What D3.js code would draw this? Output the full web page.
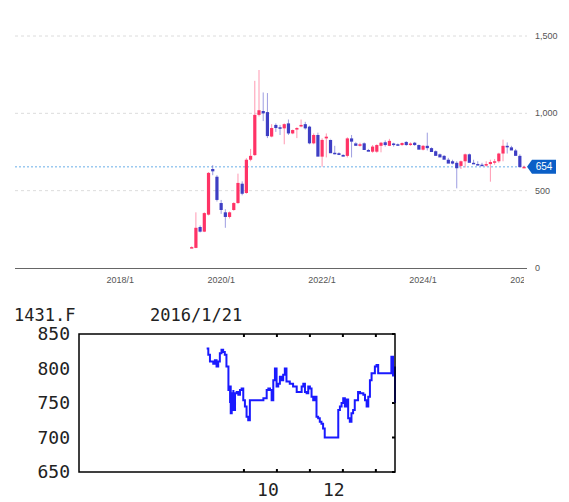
<!DOCTYPE html>
<html>
<head>
<meta charset="utf-8">
<script src="https://cdn.jsdelivr.net/npm/d3@7"></script>
<style>
  body { margin: 0; background: #fff; }
  svg { display: block; }
</style>
</head>
<body>
<svg id="chart" width="569" height="502"></svg>
<script>
// monthly candles, 2019/6 .. 2026/1
const startMonth = 17 // months after 2018/1
const opens  = [135,130,265,235,345,640,590,420,360,330,375,420,545,485,700,730,990,1015,1008,850,925,910,903,935,870,895,915,930,914,806,860,720,838,828,745,742,731,725,838,806,790,806,763,752,752,790,813,790,805,800,795,815,795,810,795,765,790,775,755,735,725,700,690,680,660,690,735,680,672,668,662,672,685,690,740,790,780,760,725,652]
const highs  = [140,360,275,360,620,665,600,440,380,365,425,610,560,710,770,1210,1280,1135,1131,930,935,925,935,960,895,910,960,945,920,870,875,838,870,832,790,748,735,845,860,815,810,812,770,795,800,815,825,835,810,805,812,820,812,815,798,795,875,780,760,740,730,712,700,690,695,740,740,700,690,680,690,700,705,745,830,812,790,770,735,662]
const lows   = [130,128,230,232,340,600,430,350,260,320,370,415,470,480,690,725,980,950,840,845,880,860,800,860,865,840,910,895,800,800,855,655,715,835,735,730,725,715,715,810,785,785,760,745,745,748,785,788,785,790,790,790,790,790,792,760,760,770,745,722,710,695,670,515,640,650,685,675,665,660,655,558,668,680,690,740,778,755,720,648,650]
const closes = [135,260,235,355,615,625,440,375,330,360,420,550,480,700,725,990,1020,1000,853,905,905,900,930,870,892,905,925,903,806,860,720,828,849,742,738,731,720,838,817,790,800,763,752,785,795,810,795,822,795,795,808,795,805,795,765,790,775,750,725,715,700,675,675,645,690,735,680,672,668,662,672,685,690,740,790,780,760,725,652,654]
const yTicks = [0,500,1000,1500]
const xTickMonths = [0,24,48,72,96]
const xTickLabels = ['2018/1','2020/1','2022/1','2024/1','2026/1']
const lastPrice = 654

// intraday line (bottom panel)
const lineTitle = '1431.F'
const lineDate = '2016/1/21'
const lineMonths = [7.87,7.92,7.97,8.07,8.12,8.17,8.22,8.27,8.32,8.37,8.42,8.47,8.53,8.53,8.58,8.58,8.60,8.63,8.68,8.68,8.73,8.78,8.83,8.88,8.93,8.98,9.03,9.08,9.13,9.18,9.23,9.38,9.59,9.69,9.74,9.79,9.84,9.89,9.94,9.99,10.04,10.09,10.14,10.19,10.24,10.29,10.39,10.49,10.60,10.70,10.75,10.80,10.85,10.90,10.95,11.00,11.05,11.10,11.15,11.20,11.25,11.30,11.35,11.40,11.45,11.81,11.86,11.91,11.96,12.01,12.06,12.11,12.16,12.21,12.26,12.31,12.36,12.46,12.52,12.62,12.67,12.72,12.77,12.82,12.87,12.97,13.02,13.07,13.47,13.47,13.52,13.58,13.58]
const lineValues = [829,820,810,807,812,803,810,822,827,824,820,803,795,769,750,774,735,764,769,740,764,766,762,769,771,754,745,730,725,754,754,754,757,769,771,769,754,783,800,774,778,788,783,791,800,781,778,774,766,766,774,778,766,764,774,771,759,754,759,730,728,723,720,713,700,700,740,745,750,757,745,755,728,723,735,740,754,766,764,762,754,745,759,783,793,803,805,793,793,817,790,750,803]
const lineYTicks = [650,700,750,800,850]
const lineXTicks = [9,10,11,12,13]
const lineXLabels = [10,12]

const svg = d3.select('#chart')

// ---------- top candlestick chart ----------
const x = d3.scaleLinear().domain([-25, 96.7]).range([15, 527])
const y = d3.scaleLinear().domain([0, 1500]).range([268, 36])

const defs = svg.append('defs')
defs.append('clipPath').attr('id', 'xclip')
  .append('rect').attr('x', 0).attr('y', 270).attr('width', 524).attr('height', 20)

svg.append('g').selectAll('line').data(yTicks.filter(d => d > 0)).join('line')
  .attr('x1', 15).attr('x2', 527)
  .attr('y1', d => y(d)).attr('y2', d => y(d))
  .attr('stroke', '#dcdcdc').attr('stroke-dasharray', '3,3')

svg.append('line').attr('x1', 15).attr('x2', 527).attr('y1', 268.5).attr('y2', 268.5)
  .attr('stroke', '#666')

svg.append('g').selectAll('text').data(yTicks).join('text')
  .attr('x', 535).attr('y', d => y(d) + 3)
  .attr('font-family', 'Liberation Sans, Arial').attr('font-size', 9).attr('fill', '#555')
  .text(d => d3.format(',')(d))

svg.append('g').attr('clip-path', 'url(#xclip)').selectAll('text').data(xTickMonths).join('text')
  .attr('x', d => x(d)).attr('y', 283).attr('text-anchor', 'middle')
  .attr('font-family', 'Liberation Sans, Arial').attr('font-size', 9).attr('fill', '#555')
  .text((d, i) => xTickLabels[i])

svg.append('line').attr('x1', 15).attr('x2', 527)
  .attr('y1', y(lastPrice)).attr('y2', y(lastPrice))
  .attr('stroke', '#6aaee8').attr('stroke-dasharray', '2,2')

const candles = closes.map((c, i) => ({ m: startMonth + i, o: opens[i], h: highs[i], l: lows[i], c }))
const col = d => d.c >= d.o ? '#ff3366' : '#3e3ec4'
const cg = svg.append('g')
cg.selectAll('line').data(candles).join('line')
  .attr('x1', d => x(d.m)).attr('x2', d => x(d.m))
  .attr('y1', d => y(d.h)).attr('y2', d => y(d.l))
  .attr('stroke', col).attr('stroke-opacity', 0.5)
cg.selectAll('rect').data(candles).join('rect')
  .attr('x', d => x(d.m) - 1.6).attr('width', 3.2)
  .attr('y', d => y(Math.max(d.o, d.c)))
  .attr('height', d => Math.max(1.5, Math.abs(y(d.o) - y(d.c))))
  .attr('fill', col)

const py = y(lastPrice)
svg.append('path')
  .attr('d', `M527,${py} L532,${py - 7} L556,${py - 7} L556,${py + 7} L532,${py + 7} Z`)
  .attr('fill', '#0b5fc7')
svg.append('text').attr('x', 544).attr('y', py + 3.5).attr('text-anchor', 'middle')
  .attr('font-family', 'Liberation Sans, Arial').attr('font-size', 10).attr('fill', '#fff')
  .text(lastPrice)

// ---------- bottom line chart ----------
const lx = d3.scaleLinear().domain([4, 13.58]).range([79, 395])
const ly = d3.scaleLinear().domain([650, 850]).range([472, 334])
const mono = 'DejaVu Sans Mono, Liberation Mono, monospace'

svg.append('text').attr('x', 14).attr('y', 321).attr('font-family', mono).attr('font-size', 17)
  .attr('fill', '#222').text(lineTitle)
svg.append('text').attr('x', 150).attr('y', 321).attr('font-family', mono).attr('font-size', 17)
  .attr('fill', '#222').text(lineDate)

svg.append('g').selectAll('text').data(lineYTicks).join('text')
  .attr('x', 70).attr('y', d => ly(d) + 6).attr('text-anchor', 'end')
  .attr('font-family', mono).attr('font-size', 18).attr('fill', '#222').text(d => d)

const tk = svg.append('g').attr('stroke', '#000').attr('stroke-width', 2)
tk.selectAll('.b').data(lineXTicks).join('line').attr('class', 'b')
  .attr('x1', d => lx(d)).attr('x2', d => lx(d)).attr('y1', 469).attr('y2', 472)
tk.selectAll('.t').data(lineXTicks).join('line').attr('class', 't')
  .attr('x1', d => lx(d)).attr('x2', d => lx(d)).attr('y1', 334).attr('y2', 337)
tk.selectAll('.r').data(lineYTicks).join('line').attr('class', 'r')
  .attr('x1', 392).attr('x2', 395).attr('y1', d => ly(d)).attr('y2', d => ly(d))

svg.append('g').selectAll('text').data(lineXLabels).join('text')
  .attr('x', d => lx(d) - 9).attr('y', 496).attr('text-anchor', 'middle')
  .attr('font-family', mono).attr('font-size', 18).attr('fill', '#222').text(d => d)

svg.append('path')
  .datum(lineMonths.map((m, i) => [m, lineValues[i]]))
  .attr('d', d3.line().x(d => lx(d[0])).y(d => ly(d[1])).curve(d3.curveStepAfter))
  .attr('fill', 'none').attr('stroke', '#1a1aff').attr('stroke-width', 2)

svg.append('rect').attr('x', 79).attr('y', 334).attr('width', 316).attr('height', 138)
  .attr('fill', 'none').attr('stroke', '#000').attr('stroke-width', 1.5)
</script>
</body>
</html>
